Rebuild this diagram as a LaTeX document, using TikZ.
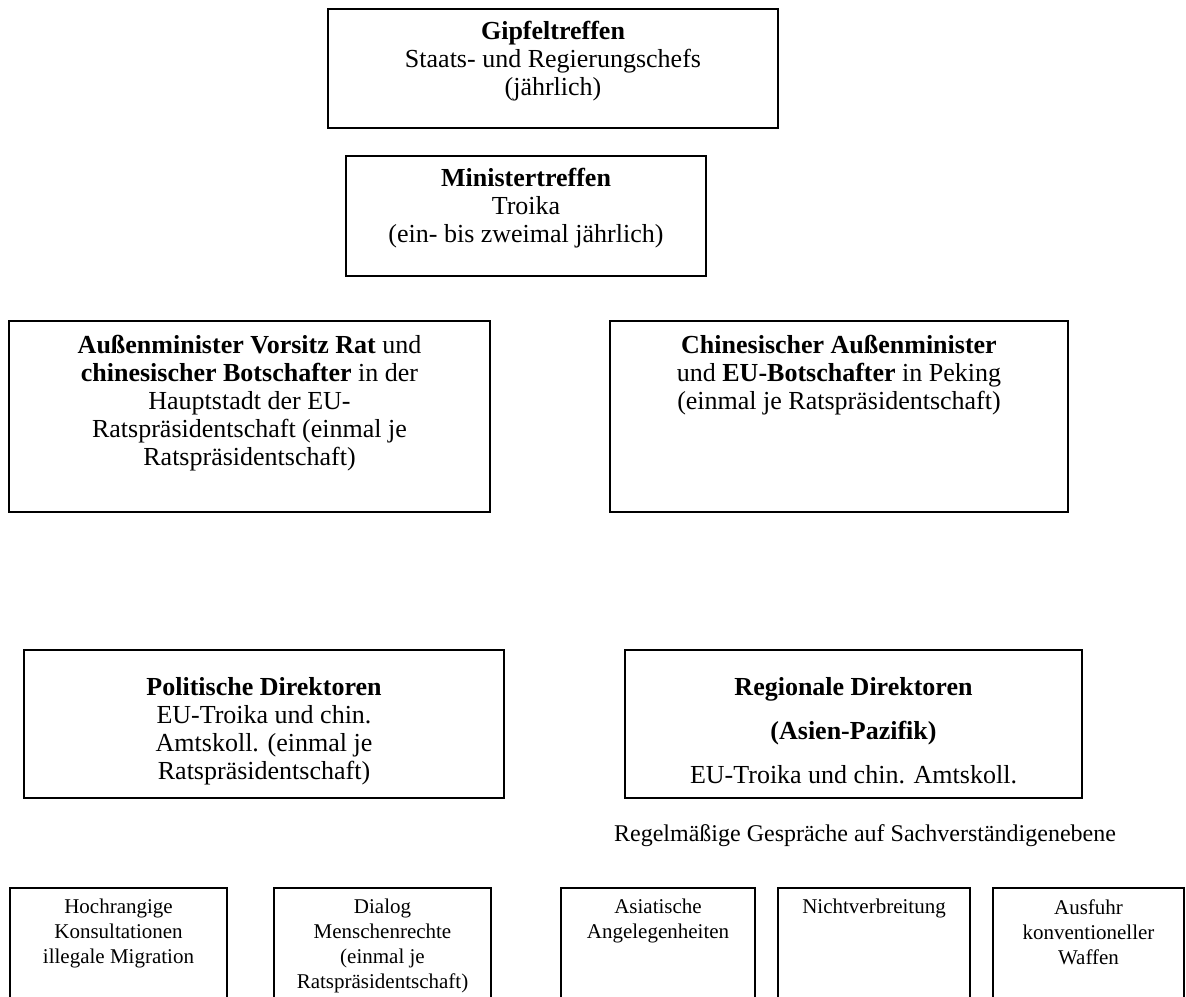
\documentclass[tikz,border=0pt]{standalone}
\usepackage{fontspec}
\setmainfont{Liberation Serif}
\usepackage{tikz}
\usetikzlibrary{positioning}
\tikzset{
  %% ── Kästen ───────────────────────────────────────────────────────────
  %% Alle Ebenen tragen denselben schwarzen Rahmen; der Text sitzt oben.
  kasten/.style     = {draw=black, line width=1.1pt, inner sep=0pt},
  %%
  %% ── Text ─────────────────────────────────────────────────────────────
  kastenText/.style = {align=center, inner sep=0pt,
                       font=\fontsize{13}{14}\selectfont},
  kleinText/.style  = {align=center, inner sep=0pt,
                       font=\fontsize{10.5}{12.5}\selectfont},
  hinweis/.style    = {inner sep=0pt, font=\fontsize{12}{14}\selectfont},
}
\begin{document}
\begin{tikzpicture}[x=0.5pt, y=-0.5pt]
\useasboundingbox (0,0) rectangle (1186,996);
\clip (0,0) rectangle (1186,996);

\node[kasten, minimum width=225pt, minimum height=59.5pt] (gipfel) at (553, 68.5) {};
\node[kastenText, below=6.5pt of gipfel.north] (gipfelText)
  {\textbf{Gipfeltreffen}\\Staats- und Regierungschefs\\(jährlich)};

\node[kasten, minimum width=180pt, minimum height=60pt] (minister) at (526, 216) {};
\node[kastenText, below=6.5pt of minister.north] (ministerText)
  {\textbf{Ministertreffen}\\Troika\\(ein- bis zweimal jährlich)};

\node[kasten, minimum width=240.5pt, minimum height=95.5pt] (ratLinks) at (249.5, 416.5) {};
\node[kastenText, below=7.5pt of ratLinks.north] (ratLinksText)
  {\textbf{Außenminister Vorsitz Rat} und\\\textbf{chinesischer Botschafter} in der\\
   Hauptstadt der EU-\\Ratspräsidentschaft (einmal je\\Ratspräsidentschaft)};

\node[kasten, minimum width=229pt, minimum height=95.5pt] (ratRechts) at (839, 416.5) {};
\node[kastenText, below=7.5pt of ratRechts.north] (ratRechtsText)
  {\textbf{Chinesischer Außenminister}\\und \textbf{EU-Botschafter} in Peking\\
   (einmal je Ratspräsidentschaft)};

\node[kasten, minimum width=240pt, minimum height=74pt] (politisch) at (264, 724) {};
\node[kastenText, below=14pt of politisch.north] (politischText)
  {\textbf{Politische Direktoren}\\EU-Troika und chin.\\Amtskoll. (einmal je\\
   Ratspräsidentschaft)};

\node[kasten, minimum width=228.5pt, minimum height=74pt] (regional) at (853.5, 724) {};
\node[kastenText, below=14pt of regional.north] (regionalText)
  {\textbf{Regionale Direktoren}\\[8pt]\textbf{(Asien-Pazifik)}\\[8pt]
   EU-Troika und chin. Amtskoll.};

\node[hinweis] (sachverstand) at (865, 836)
  {Regelmäßige Gespräche auf Sachverständigenebene};

%% Sachverständigenebene, unten vom Bildrand abgeschnitten
\foreach \n/\x/\w/\t in {
    konsult/118.5/108.5pt/{Hochrangige\\Konsultationen\\illegale Migration},
    dialog/382.5/108.5pt/{Dialog\\Menschenrechte\\(einmal je\\Ratspräsidentschaft)},
    asien/658/97pt/{Asiatische\\Angelegenheiten},
    nichtverb/874/96pt/{Nichtverbreitung},
    ausfuhr/1088.5/95.5pt/{Ausfuhr\\konventioneller\\Waffen}} {
  \node[kasten, minimum width=\w, minimum height=66pt] (\n) at (\x, 954) {};
  \node[kleinText, below=6pt of \n.north] (\n Text) {\t};
}

\end{tikzpicture}
\end{document}
